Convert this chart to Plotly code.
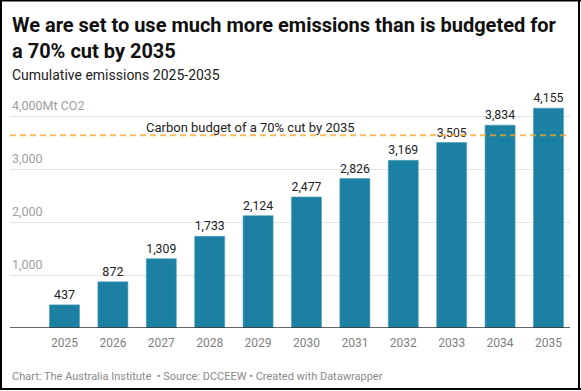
import plotly.graph_objects as go

years = ["2025", "2026", "2027", "2028", "2029", "2030", "2031", "2032", "2033", "2034", "2035"]
emissions = [437, 872, 1309, 1733, 2124, 2477, 2826, 3169, 3505, 3834, 4155]
value_labels = ["437", "872", "1,309", "1,733", "2,124", "2,477", "2,826", "3,169", "3,505", "3,834", "4,155"]
budget = 3645
budget_label = "Carbon budget of a 70% cut by 2035"
y_tickvals = [1000, 2000, 3000, 4000]
y_ticktext = ["1,000", "2,000", "3,000", "4,000Mt CO2"]

title = "<b>We are set to use much more emissions than is budgeted for<br>a 70% cut by 2035</b>"
subtitle = "Cumulative emissions 2025-2035"
footer = "Chart: The Australia Institute  • Source: DCCEEW • Created with Datawrapper"

W, H = 581, 391
ML, MR, MT, MB = 10, 11, 100, 63
pw = W - ML - MR
ph = H - MT - MB

FONT = "Roboto"

x_idx = list(range(len(years)))

fig = go.Figure()
fig.add_trace(go.Bar(
    x=x_idx, y=emissions,
    marker=dict(color="#1c80a2", line=dict(color="#4a9cb8", width=0.6)),
    width=0.62,
    text=value_labels, textposition="outside",
    textfont=dict(family=FONT, size=12.5, color="#222222"),
    cliponaxis=False,
    hoverinfo="skip",
))

fig.update_layout(
    width=W, height=H,
    margin=dict(l=ML, r=MR, t=MT, b=MB),
    paper_bgcolor="white", plot_bgcolor="white",
    showlegend=False,
    font=dict(family=FONT),
    xaxis=dict(
        range=[-1.126, 10.445],
        tickvals=x_idx, ticktext=years,
        showgrid=False, zeroline=False, showline=False,
        ticks="", tickfont=dict(family=FONT, size=12, color="#7f7f7f"),
        ticklabelstandoff=6,
    ),
    yaxis=dict(
        range=[0, ph / 52.9 * 1000],
        tickvals=y_tickvals, showticklabels=False,
        showgrid=True, gridcolor="#e5e5e5", gridwidth=1,
        zeroline=False, showline=False, ticks="",
    ),
)

# y tick labels sitting above the gridlines
for v, t in zip(y_tickvals, y_ticktext):
    fig.add_annotation(xref="paper", yref="y", x=0, y=v, xanchor="left", yanchor="bottom",
                       yshift=1, showarrow=False, text=t,
                       font=dict(family=FONT, size=12.5, color="#a0a0a0"))

# baseline
fig.add_shape(type="line", xref="paper", yref="y", x0=0, x1=1, y0=0, y1=0,
              line=dict(color="#333333", width=1.5), layer="above")
# budget line
fig.add_shape(type="line", xref="paper", yref="y", x0=0, x1=1, y0=budget, y1=budget,
              line=dict(color="rgba(246,166,40,0.75)", width=2, dash="6px,4px"), layer="above")
fig.add_annotation(xref="paper", yref="y", x=(144 - ML) / pw, y=budget,
                   xanchor="left", yanchor="bottom", yshift=-2,
                   text=budget_label, showarrow=False,
                   font=dict(family=FONT, size=13, color="#222222"))

def px_x(x):
    return (x - ML) / pw

def px_y(y):
    return (H - MB - y) / ph

fig.add_annotation(xref="paper", yref="paper", x=px_x(10), y=px_y(11),
                   xanchor="left", yanchor="top", align="left", showarrow=False,
                   text=title, font=dict(family=FONT, size=20, color="#111111"))
fig.add_annotation(xref="paper", yref="paper", x=px_x(10), y=px_y(75),
                   xanchor="left", yanchor="middle", align="left", showarrow=False,
                   text=subtitle, font=dict(family=FONT, size=14, color="#222222"))
fig.add_annotation(xref="paper", yref="paper", x=px_x(10), y=px_y(376),
                   xanchor="left", yanchor="middle", align="left", showarrow=False,
                   text=footer, font=dict(family=FONT, size=11, color="#8a8a8a"))

# outer frame
for (x0, y0, x1, y1) in [(1, 0, 1, H - 1), (W - 2, 0, W - 2, H - 1),
                         (0, H - 2, W, H - 2), (0, 0.5, W, 0.5)]:
    fig.add_shape(type="line", xref="paper", yref="paper",
                  x0=px_x(x0), x1=px_x(x1), y0=px_y(y0), y1=px_y(y1),
                  line=dict(color="#000000", width=2), layer="above")

fig.write_html("out.html", config={"displayModeBar": False},
               post_script="document.body.style.margin='0';")
